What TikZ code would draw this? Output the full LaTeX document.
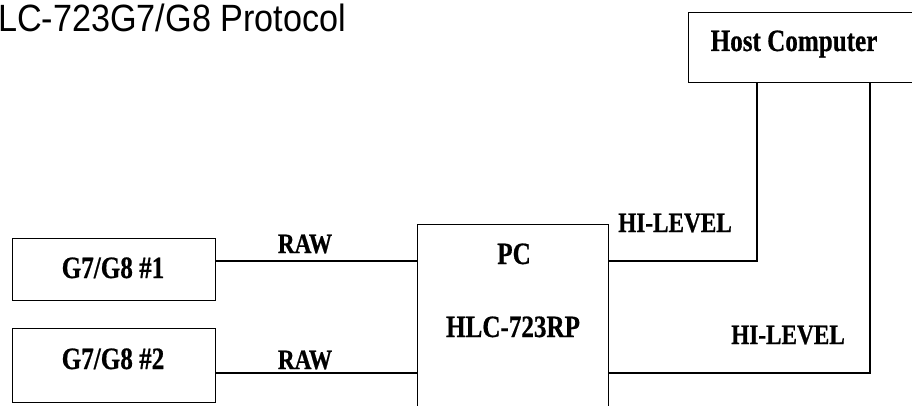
\documentclass[tikz,border=0pt]{standalone}
\usepackage{fontspec}
\setmainfont{Liberation Serif}
\newfontfamily\arialf[FakeStretch=0.9]{Liberation Sans}
\newfontfamily\tnrc[FakeStretch=0.81,FakeBold=0.6]{Liberation Serif}
\newfontfamily\tnrw[FakeStretch=0.83,FakeBold=0.6]{Liberation Serif}
\begin{document}
\begin{tikzpicture}[x=1pt,y=-1pt,
  box/.style={draw,line width=1.2pt,inner sep=0pt,anchor=north west},
  lbl/.style={anchor=base,inner sep=0pt,font=\tnrc\bfseries\fontsize{31}{31}\selectfont},
  wlbl/.style={anchor=base,inner sep=0pt,font=\tnrw\bfseries\fontsize{28}{28}\selectfont},
  wire/.style={line width=1.2pt}]
\clip (0,0) rectangle (912,406);
\fill[white] (0,0) rectangle (912,406);
% title
\node[anchor=base west,inner sep=0pt,font=\arialf\fontsize{38}{38}\selectfont] (title) at (-2,32) {LC-723G7/G8 Protocol};
% boxes
\node[box,minimum width=232pt,minimum height=70pt] (host) at (688,12) {};
\node[box,minimum width=191pt,minimum height=200pt] (pc) at (417,224) {};
\node[box,minimum width=203pt,minimum height=62pt] (g1) at (12,238) {};
\node[box,minimum width=203pt,minimum height=74pt] (g2) at (12,328) {};
% box texts
\node[lbl] (hostt) at (794,51) {Host Computer};
\node[lbl] (pct) at (514,264) {PC};
\node[lbl] (rpt) at (513,337) {HLC-723RP};
\node[lbl] (g1t) at (113,278) {G7/G8 \#1};
\node[lbl] (g2t) at (113,369) {G7/G8 \#2};
% wires
\coordinate (r1) at (0,261);
\coordinate (r2) at (0,373);
\coordinate (h1) at (757,261);
\coordinate (h2) at (870,373);
\draw[wire] (r1 -| g1.east) -- (r1 -| pc.west);
\draw[wire] (r2 -| g2.east) -- (r2 -| pc.west);
\draw[wire] (h1 -| pc.east) -- (h1) -- (h1 |- host.south);
\draw[wire] (h2 -| pc.east) -- (h2) -- (h2 |- host.south);
% wire labels
\node[wlbl] (raw1) at (305,253) {RAW};
\node[wlbl] (raw2) at (305,369) {RAW};
\node[wlbl] (hi1) at (675,232) {HI-LEVEL};
\node[wlbl] (hi2) at (788,344) {HI-LEVEL};
\end{tikzpicture}
\end{document}
